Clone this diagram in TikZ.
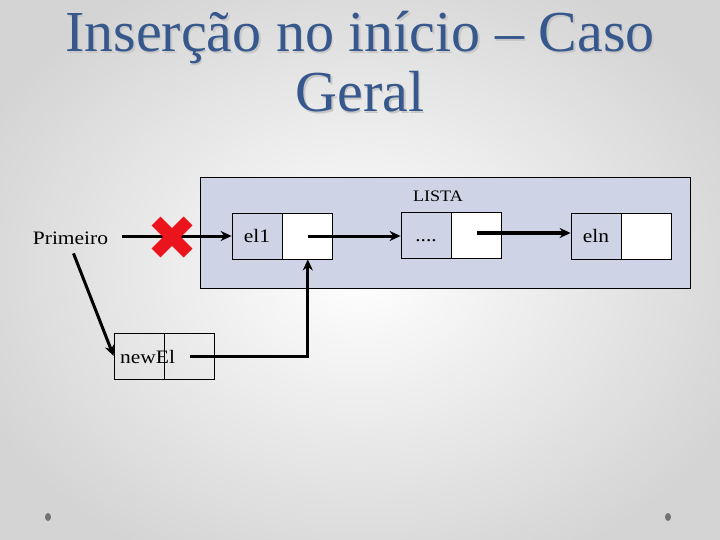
\documentclass[tikz,border=0pt]{standalone}
\usepackage{fontspec}
\newfontfamily\titlefont{Liberation Serif}
\newfontfamily\bodyfont[FakeStretch=1.13]{Liberation Serif}
\usetikzlibrary{arrows.meta}
\definecolor{listfill}{RGB}{206,212,230}
\definecolor{titleblue}{RGB}{55,88,140}
\definecolor{xred}{RGB}{235,20,28}
\tikzset{
  cellL/.style={draw=black, line width=0.8pt, fill=listfill, minimum width=50pt, minimum height=46pt, inner sep=0pt, text height=13.5pt, text depth=0pt, font=\bodyfont\fontsize{19}{22}\selectfont},
  cellR/.style={draw=black, line width=0.8pt, fill=white, minimum width=50pt, minimum height=46pt, inner sep=0pt},
  cellN/.style={draw=black, line width=0.8pt, minimum width=50pt, minimum height=46pt, inner sep=0pt},
  lbl/.style={inner sep=0pt, font=\bodyfont\fontsize{19}{22}\selectfont},
  ttl/.style={inner sep=0pt, anchor=base, font=\titlefont\fontsize{58}{60}\selectfont},
  arr/.style={line width=3pt, -{Stealth[length=11pt,width=10pt]}},
}
\begin{document}
\begin{tikzpicture}[x=1pt,y=-1pt]
\useasboundingbox (0,0) rectangle (720,540);
\shade[inner color=white, outer color=black!17] (-60,-60) rectangle (780,600);
% title
\node[ttl, text=black!22] (t1s) at (361.5,53.5) {Inserção no início – Caso};
\node[ttl, text=black!22] (t2s) at (361.5,113.5) {Geral};
\node[ttl, text=titleblue] (t1) at (360,52) {Inserção no início – Caso};
\node[ttl, text=titleblue] (t2) at (360,112) {Geral};
% list box
\node[draw=black, line width=0.8pt, fill=listfill, minimum width=490pt, minimum height=111pt, inner sep=0pt] (lista) at (445,232.5) {};
\node[lbl, anchor=base, font=\bodyfont\fontsize{16}{20}\selectfont] (listalbl) at (438,201.5) {LISTA};
% cells
\node[cellL] (e1a) at (257,236) {el1};
\node[cellR, anchor=west] (e1b) at (e1a.east) {};
\node[cellL] (d1a) at (426,235) {....};
\node[cellR, anchor=west] (d1b) at (d1a.east) {};
\node[cellL] (ena) at (596,236) {eln};
\node[cellR, anchor=west] (enb) at (ena.east) {};
\node[cellN] (n1a) at (139,356) {};
\node[cellN, anchor=west] (n1b) at (n1a.east) {};
\node[lbl, anchor=base west] (n1t) at (120,363) {newEl};
% Primeiro
\node[lbl, anchor=base] (prim) at (70.5,244) {Primeiro};
% arrows
\draw[arr] ([xshift=14pt]prim.mid east |- e1a.west) -- (e1a.west);
\draw[arr] ([xshift=3pt,yshift=-9pt]prim.south) -- (n1a.west);
\draw[arr] (n1b.center) -| (e1b.south);
\draw[arr] (e1b.center) -- (e1b.center -| d1a.west);
\draw[arr] ([yshift=2pt]d1b.center) -- ([yshift=2pt]d1b.center -| ena.west);
% red cross
\coordinate (xc) at (172,237);
\draw[xred, line width=12.5pt] ([shift={(-16,-16)}]xc) -- ([shift={(16,16)}]xc);
\draw[xred, line width=12.5pt] ([shift={(-16,16)}]xc) -- ([shift={(16,-16)}]xc);
% corner dots
\fill[black!55] (48,517) ellipse (3pt and 4pt);
\fill[black!55] (668,517) ellipse (3pt and 4pt);
\end{tikzpicture}
\end{document}
